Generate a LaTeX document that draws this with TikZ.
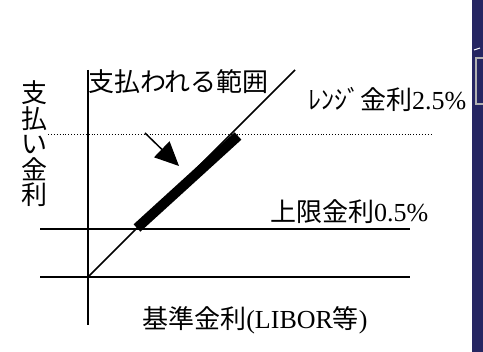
\documentclass[tikz,border=0pt]{standalone}
\usepackage{fontspec}
\setmainfont{Liberation Serif}
\newfontfamily\jp{Noto Sans CJK JP}
\usetikzlibrary{arrows.meta}
\definecolor{navy}{RGB}{38,38,98}
\tikzset{
  axisline/.style={line width=1.8pt},
  lbl/.style={inner sep=0pt, font=\fontsize{26}{25.5}\selectfont},
}
\begin{document}
\begin{tikzpicture}[x=1pt,y=-1pt]
\useasboundingbox (0,0) rectangle (483,352);
\fill[white] (0,0) rectangle (483,352);
% right strip
\fill[navy] (472,0) rectangle (483,352);
\draw[gray!60, line width=1.5pt] (483,58) -- (476,58) -- (476,104) -- (483,104);
\draw[white, line width=1pt] (474,50) -- (480,48);
% coordinates
\coordinate (vt) at (88,70);
\coordinate (vb) at (88,325);
\coordinate (hl) at (40,277);
\coordinate (hr) at (410,277);
\coordinate (cl) at (40,229);
\coordinate (cr) at (410,229);
\coordinate (dl) at (48,134);
\coordinate (dr) at (433,134);
\coordinate (o) at (88,277);
\coordinate (dtop) at (295,70);
\coordinate (tb) at (137,228);
\coordinate (tt) at (238,136);
\coordinate (as) at (145,133);
\coordinate (ae) at (179,166);
% axes
\draw[axisline] (vt) -- (vb);
\draw[axisline] (hl) -- (hr);
\draw[axisline] (cl) -- (cr);
\draw[line width=0.9pt, dotted] (dl) -- (dr);
\draw[line width=1.5pt] (o) -- (dtop);
\draw[line width=10pt] (tb) -- (tt);
\draw[line width=1.5pt, -{Triangle[length=24pt,width=22pt]}] (as) -- (ae);
% labels
\node[lbl, anchor=west] (range) at (88,82) {\jp 支払われる範囲};
\node[lbl, anchor=west] (rng) at (308,99) {{\jp ﾚﾝｼﾞ金利}2.5\%};
\node[lbl, anchor=west] (cap) at (270,212) {{\jp 上限金利}0.5\%};
\node[lbl] (base) at (255,320) {{\jp 基準金利}(LIBOR{\jp 等})};
\node[lbl, align=center] (yax) at (35,144) {\jp 支\\\jp 払\\\jp い\\\jp 金\\\jp 利};
\end{tikzpicture}
\end{document}
